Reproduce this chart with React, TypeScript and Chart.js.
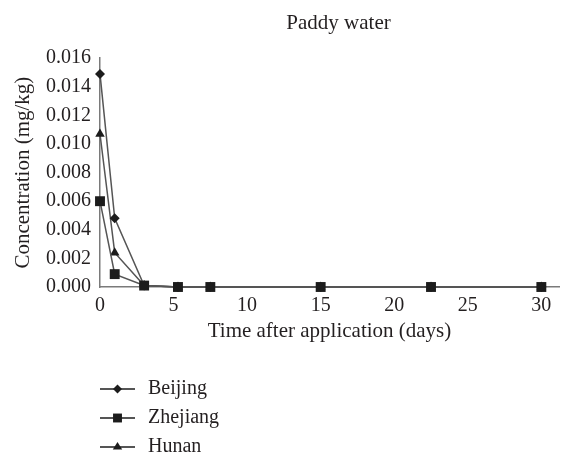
import React, { useEffect, useRef } from "react";
import { Chart, registerables } from "chart.js";

Chart.register(...registerables);

const days = [0, 1, 3, 5.3, 7.5, 15, 22.5, 30];
const beijing = [0.0149, 0.0048, 0.0001, 0, 0, 0, 0, 0];
const zhejiang = [0.006, 0.0009, 0.0001, 0, 0, 0, 0, 0];
const hunan = [0.0107, 0.0024, 0.0001, 0, 0, 0, 0, 0];
const seriesNames = ["Beijing", "Zhejiang", "Hunan"];
const yTicks = [0, 0.002, 0.004, 0.006, 0.008, 0.01, 0.012, 0.014, 0.016];

const FONT = "'Liberation Serif', 'DejaVu Serif', serif";
const TEXT = "#231f20";
const LINE = "#555555";
const MARK = "#1c1c1c";

const styles = ["rectRot", "rect", "triangle"];
const radii = [5, 7, 5.5];

function drawMarker(ctx: CanvasRenderingContext2D, style: string, x: number, y: number, r: number) {
  ctx.beginPath();
  if (style === "rectRot") {
    ctx.moveTo(x, y - r);
    ctx.lineTo(x + r, y);
    ctx.lineTo(x, y + r);
    ctx.lineTo(x - r, y);
  } else if (style === "rect") {
    const s = r * Math.SQRT1_2;
    ctx.rect(x - s, y - s, 2 * s, 2 * s);
  } else {
    const h = r * 1.5;
    ctx.moveTo(x, y - r);
    ctx.lineTo(x + r * 0.95, y + h - r);
    ctx.lineTo(x - r * 0.95, y + h - r);
  }
  ctx.closePath();
  ctx.fill();
}

const legendPlugin = {
  id: "customLegend",
  afterLayout(chart: any) {
    // nudge the title to sit where the reference places it
    const tb = chart.titleBlock;
    if (tb) {
      tb.left += 9;
      tb.right += 9;
    }
  },
  afterDraw(chart: any) {
    const ctx = chart.ctx as CanvasRenderingContext2D;
    ctx.save();
    const rows = [389, 418, 447];
    seriesNames.forEach((name, i) => {
      const y = rows[i];
      ctx.strokeStyle = MARK;
      ctx.lineWidth = 1.6;
      ctx.beginPath();
      ctx.moveTo(100, y);
      ctx.lineTo(135, y);
      ctx.stroke();
      ctx.fillStyle = MARK;
      drawMarker(ctx, styles[i], 117.5, y, radii[i] * 0.9);
      ctx.fillStyle = TEXT;
      ctx.font = `20px ${FONT}`;
      ctx.textBaseline = "middle";
      ctx.textAlign = "left";
      ctx.fillText(name, 148, y);
    });
    ctx.restore();
  },
};

export default function App() {
  const ref = useRef<HTMLCanvasElement | null>(null);
  useEffect(() => {
    document.body.style.margin = "0";
    if (!ref.current) return;
    const mk = (arr: number[]) => days.map((d, i) => ({ x: d, y: arr[i] }));
    const all = [beijing, zhejiang, hunan];
    const chart = new Chart(ref.current, {
      type: "line",
      data: {
        datasets: all.map((arr, i) => ({
          label: seriesNames[i],
          data: mk(arr),
          borderColor: LINE,
          borderWidth: 1.5,
          backgroundColor: MARK,
          pointBackgroundColor: MARK,
          pointBorderColor: MARK,
          pointBorderWidth: 0,
          pointStyle: styles[i] as any,
          pointRadius: radii[i],
          tension: 0,
          fill: false,
          clip: false as any,
          order: i === 1 ? 0 : i + 1,
        })),
      },
      options: {
        animation: false,
        responsive: false,
        layout: { padding: { left: 0, right: 2, top: 0, bottom: 105 } },
        plugins: {
          legend: { display: false },
          tooltip: { enabled: false },
          title: {
            display: true,
            text: "Paddy water",
            fullSize: false,
            color: TEXT,
            font: { family: FONT, size: 21, weight: "normal" as any },
            padding: { top: 11, bottom: 22 },
          },
        },
        scales: {
          x: {
            type: "linear",
            min: 0,
            max: 31.2,
            grid: { display: false, drawTicks: false },
            border: { display: true, color: "#7a7a7a", width: 1.5 },
            afterFit: (scale: any) => {
              scale.height = 63;
            },
            ticks: {
              stepSize: 5,
              includeBounds: false,
              padding: 7,
              color: TEXT,
              font: { family: FONT, size: 20 },
              maxRotation: 0,
            },
            title: {
              display: true,
              text: "Time after application (days)",
              color: TEXT,
              font: { family: FONT, size: 21 },
              padding: { top: 0, bottom: 6 },
            },
          },
          y: {
            type: "linear",
            min: 0,
            max: 0.016,
            grid: { display: false, drawTicks: false },
            border: { display: true, color: "#7a7a7a", width: 1.5 },
            afterFit: (scale: any) => {
              scale.width = 100;
            },
            afterBuildTicks: (scale: any) => {
              scale.ticks = yTicks.map((v) => ({ value: v }));
            },
            ticks: {
              padding: 9,
              color: TEXT,
              font: { family: FONT, size: 20 },
              callback: (v: any) => Number(v).toFixed(3),
            },
            title: {
              display: true,
              text: "Concentration (mg/kg)",
              color: TEXT,
              font: { family: FONT, size: 21 },
              padding: { top: 11, bottom: 8 },
            },
          },
        },
      },
      plugins: [legendPlugin],
    });
    return () => chart.destroy();
  }, []);
  return <canvas ref={ref} width={566} height={455} style={{ display: "block", width: 566, height: 455 }} />;
}
